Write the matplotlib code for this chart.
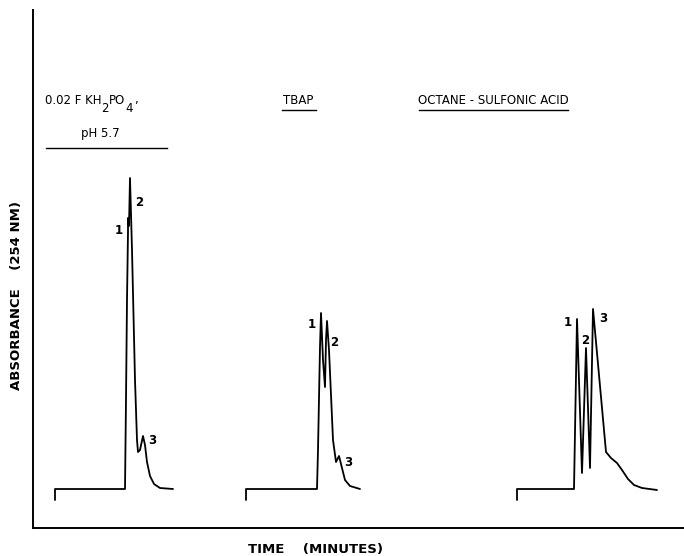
import matplotlib
matplotlib.use("Agg")
import matplotlib.pyplot as plt

plt.rcParams['font.family'] = ['DejaVu Sans']

# chromatogram traces: time (arb. units) vs absorbance (arb. units)
t_phosphate = [22, 22, 92, 93, 94, 95, 95, 96, 97, 99, 102, 104, 105, 107, 110, 112, 114, 117, 121, 127, 140]
a_phosphate = [28, 39, 39, 128, 228, 296, 310, 302, 350, 278, 148, 88, 76, 78, 92, 83, 66, 52, 44, 40, 39]

t_tbap = [213, 213, 284, 285, 287, 288, 290, 292, 293, 294, 296, 300, 303, 306, 309, 312, 317, 327]
a_tbap = [28, 39, 39, 78, 181, 215, 168, 141, 188, 207, 178, 88, 66, 72, 60, 48, 42, 39]

t_octane = [484, 484, 541, 544, 549, 553, 557, 560, 573, 578, 584, 589, 595, 601, 609, 624]
a_octane = [28, 39, 39, 209, 55, 180, 60, 219, 76, 70, 65, 58, 49, 43, 40, 38]

# peak numbers and where they sit
peak_labels = ['1', '2', '3']
peak_pos_phosphate = [(86, 298), (106, 325), (119, 88)]
peak_pos_tbap = [(279, 203), (301, 185), (315, 66)]
peak_pos_octane = [(535, 206), (552, 188), (570, 210)]

fig = plt.figure(figsize=(6.84, 5.56), dpi=100)
W, H = 684, 556
ax = fig.add_axes([33 / W, 1 - 528 / H, (W - 33) / W, (528 - 10) / H])
ax.set_xlim(0, 651)
ax.set_ylim(0, 518)
for s in ['top', 'right']:
    ax.spines[s].set_visible(False)
for s in ['left', 'bottom']:
    ax.spines[s].set_linewidth(1.4)
ax.set_xticks([])
ax.set_yticks([])

lw = 1.3
for t, a in [(t_phosphate, a_phosphate), (t_tbap, a_tbap), (t_octane, a_octane)]:
    ax.plot(t, a, color='black', lw=lw, solid_joinstyle='round', solid_capstyle='round', clip_on=False)

for positions in [peak_pos_phosphate, peak_pos_tbap, peak_pos_octane]:
    for lab, (x, y) in zip(peak_labels, positions):
        ax.text(x, y, lab, fontsize=8.5, fontweight='bold', ha='center', va='center')

# mobile phase headings; the formula is built piece by piece so the
# subscripts keep full size and drop below the line
fs = 8.5
t1 = ax.text(12, 428, '0.02 F KH', fontsize=fs, ha='left', va='center')
s1 = ax.annotate('2', xy=(1, 0), xycoords=t1, xytext=(0, 3.5), textcoords='offset points',
                 fontsize=fs, ha='left', va='top')
t2 = ax.annotate('PO', xy=(1, 0), xycoords=(s1, t1), xytext=(0, 0), textcoords='offset points',
                 fontsize=fs, ha='left', va='bottom')
s2 = ax.annotate('4', xy=(1, 0), xycoords=t2, xytext=(0, 3.5), textcoords='offset points',
                 fontsize=fs, ha='left', va='top')
ax.annotate(',', xy=(1, 0), xycoords=(s2, t1), xytext=(1, 0), textcoords='offset points',
            fontsize=fs, ha='left', va='bottom')
ax.text(67, 395, 'pH 5.7', fontsize=fs, ha='center', va='center')
ax.plot([13, 134], [380, 380], color='black', lw=1.0)

ax.text(265, 428, 'TBAP', fontsize=fs, ha='center', va='center')
ax.plot([249, 283], [418, 418], color='black', lw=1.0)

ax.text(460, 428, 'OCTANE - SULFONIC ACID', fontsize=fs, ha='center', va='center')
ax.plot([386, 535], [418, 418], color='black', lw=1.0)

fig.text(17 / W, 1 - 296 / H, 'ABSORBANCE    (254 NM)', rotation=90, fontsize=9.5,
         fontweight='bold', ha='center', va='center')
fig.text(316 / W, 1 - 549 / H, 'TIME    (MINUTES)', fontsize=9.5, fontweight='bold',
         ha='center', va='center')

fig.savefig('out.png', dpi=100)
